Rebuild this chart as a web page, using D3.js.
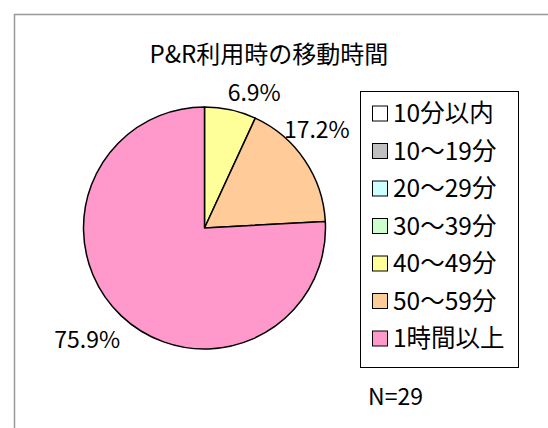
<!DOCTYPE html>
<html>
<head>
<meta charset="utf-8">
<script src="https://cdn.jsdelivr.net/npm/d3@7"></script>
<style>
  body { margin: 0; background: #fff; }
  text { font-family: "Noto Sans CJK JP", "Noto Sans", sans-serif; fill: #000; }
</style>
</head>
<body>
<svg id="chart" width="548" height="428"></svg>
<script>
const width = 548
const height = 428

const categories = ["10分以内", "10～19分", "20～29分", "30～39分", "40～49分", "50～59分", "1時間以上"]
const counts = [0, 0, 0, 0, 2, 5, 22]
const colors = ["#FFFFFF", "#C0C0C0", "#CCFFFF", "#CCFFCC", "#FFFF99", "#FFCC99", "#FF99CC"]
const title = "P&R利用時の移動時間"
const note = "N=29"

// label nudges (px) so the percents sit where the original put them
const nudges = { 4: [19, 4], 5: [-6, -18], 6: [-19, 8] }

const center = { x: 204.5, y: 228 }
const radius = 121

const svg = d3.select("#chart")
const total = d3.sum(counts)
const data = categories.map((name, i) => ({ name, value: counts[i], color: colors[i], i }))

// outer frame (runs off the right/bottom)
svg.append("rect")
    .attr("x", 14.5).attr("y", 14.5)
    .attr("width", 700).attr("height", 700)
    .attr("fill", "#fff")
    .attr("stroke", "#999").attr("stroke-width", 1.5)

svg.append("text")
    .attr("x", 269).attr("y", 63)
    .attr("text-anchor", "middle")
    .attr("font-size", 24)
    .text(title)

const pie = d3.pie().value(d => d.value).sort(null)
const arc = d3.arc().innerRadius(0).outerRadius(radius)
const labelArc = d3.arc().innerRadius(radius + 22).outerRadius(radius + 22)
const arcs = pie(data).filter(d => d.data.value > 0)

const g = svg.append("g").attr("transform", `translate(${center.x},${center.y})`)

g.selectAll("path")
    .data(arcs)
    .join("path")
    .attr("d", arc)
    .attr("fill", d => d.data.color)
    .attr("stroke", "#000")
    .attr("stroke-width", 1.5)
    .attr("stroke-linejoin", "round")

g.selectAll("text.pct")
    .data(arcs)
    .join("text")
    .attr("class", "pct")
    .attr("transform", d => {
        const [x, y] = labelArc.centroid(d)
        const n = nudges[d.data.i] || [0, 0]
        return `translate(${x + n[0]},${y + n[1]})`
    })
    .attr("text-anchor", "middle")
    .attr("dy", "0.36em")
    .attr("font-size", 23)
    .text(d => (d.data.value / total * 100).toFixed(1) + "%")

// legend
const legend = svg.append("g")
legend.append("rect")
    .attr("x", 360.5).attr("y", 91.5)
    .attr("width", 158).attr("height", 276)
    .attr("fill", "#fff")
    .attr("stroke", "#000").attr("stroke-width", 1)

const rowY = d3.scalePoint().domain(categories).range([113.5, 338.5])

const item = legend.selectAll("g.item")
    .data(data)
    .join("g")
    .attr("class", "item")
    .attr("transform", d => `translate(0,${rowY(d.name)})`)

item.append("rect")
    .attr("x", 372.5).attr("y", -7.5)
    .attr("width", 15).attr("height", 15)
    .attr("fill", d => d.color)
    .attr("stroke", "#000").attr("stroke-width", 1)

item.append("text")
    .attr("x", 393)
    .attr("dy", "0.36em")
    .attr("font-size", 24.5)
    .text(d => d.name)

svg.append("text")
    .attr("x", 368).attr("y", 405)
    .attr("font-size", 23)
    .text(note)
</script>
</body>
</html>
